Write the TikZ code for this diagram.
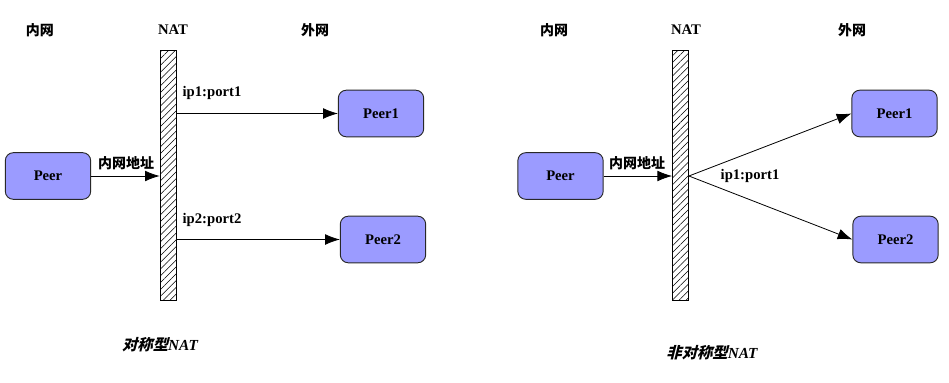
\documentclass[tikz,border=0pt]{standalone}
\usepackage{fontspec}
\setmainfont{Liberation Serif}
\newfontfamily\cjk{Noto Sans CJK SC}
\newfontfamily\cjkit{Noto Sans CJK SC}[FakeSlant=0.25]
\usetikzlibrary{arrows.meta,patterns.meta}
\definecolor{peerfill}{RGB}{155,155,255}
\definecolor{peerdraw}{RGB}{40,40,40}
\tikzset{
  peerbox/.style={draw=peerdraw, line width=0.7pt, fill=peerfill, rounded corners=6pt,
    minimum width=64pt, minimum height=35pt, inner sep=0pt,
    font=\fontsize{11}{13}\selectfont\bfseries},
  natbar/.style={draw=black, line width=0.6pt, inner sep=0pt, minimum width=12pt, minimum height=188pt,
    pattern={Lines[angle=45,distance=3.6pt,line width=0.4pt]}},
  head/.style={font=\fontsize{11}{13}\selectfont\bfseries, inner sep=0pt},
  cjklbl/.style={font=\cjk\fontsize{10.5}{12}\selectfont\bfseries, inner sep=0pt},
  caption/.style={font=\fontsize{11.5}{13}\selectfont\bfseries\itshape, inner sep=0pt},
  conn/.style={line width=0.6pt, -{Latex[length=11pt,width=8pt]}},
}
\begin{document}
\begin{tikzpicture}[x=0.75pt,y=-0.75pt]
\useasboundingbox (0,0) rectangle (949,382);
% ---------- left panel ----------
\node[cjklbl] (inL) at (40,30) {内网};
\node[head] (natL) at (173,30) {NAT};
\node[cjklbl] (outL) at (315,30) {外网};
\node[natbar] (barL) at (168,175.5) {};
\node[peerbox] (peerL) at (48,176) {Peer};
\node[peerbox] (p1L) at (381,113.5) {Peer1};
\node[peerbox] (p2L) at (383,239.5) {Peer2};
\draw[conn] (peerL.east) -- (peerL.east -| barL.west);
\node[cjklbl] (addrL) at (126,163) {内网地址};
\draw[conn] (barL.east |- p1L.west) -- (p1L.west);
\node[head] (ip1L) at (212,93) {ip1:port1};
\draw[conn] (barL.east |- p2L.west) -- (p2L.west);
\node[head] (ip2L) at (212,220) {ip2:port2};
\node[caption] (capL) at (160,345) {{\cjkit 对称型}NAT};
% ---------- right panel ----------
\node[cjklbl] (inR) at (554,30) {内网};
\node[head] (natR) at (686,30) {NAT};
\node[cjklbl] (outR) at (852,30) {外网};
\node[natbar] (barR) at (680.5,175.5) {};
\node[peerbox] (peerR) at (560.5,176) {Peer};
\node[peerbox] (p1R) at (894.5,113.5) {Peer1};
\node[peerbox] (p2R) at (895.5,239.5) {Peer2};
\draw[conn] (peerR.east) -- (peerR.east -| barR.west);
\node[cjklbl] (addrR) at (637,163) {内网地址};
\coordinate (srcR) at (barR.east |- peerR.east);
\draw[conn] (srcR) -- (p1R.west);
\draw[conn] (srcR) -- (p2R.west);
\node[head] (ip1R) at (750,176) {ip1:port1};
\node[caption] (capR) at (712,353) {{\cjkit 非对称型}NAT};
\end{tikzpicture}
\end{document}
